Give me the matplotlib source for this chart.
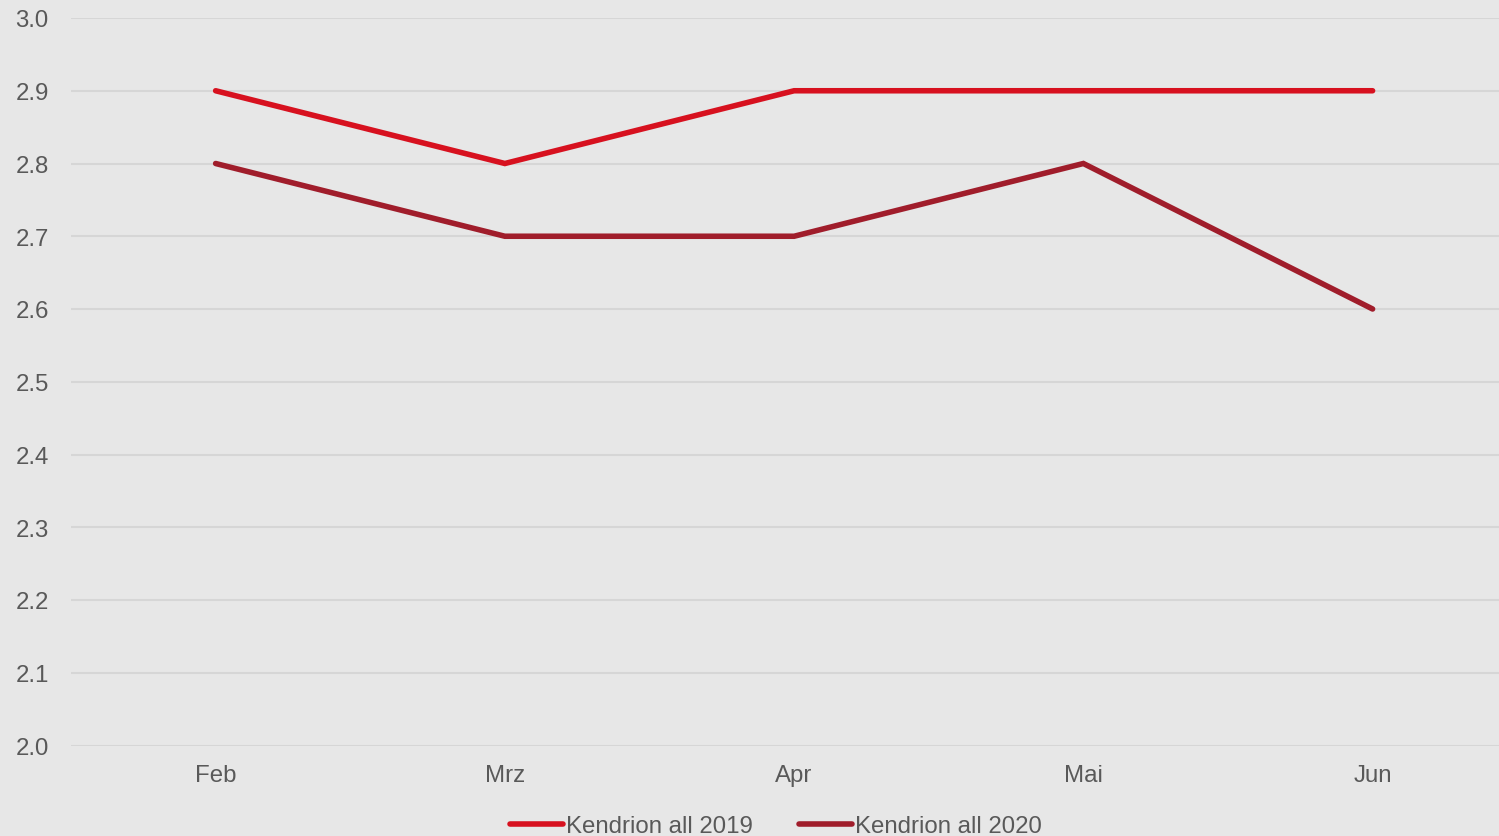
import matplotlib
matplotlib.use("Agg")
import matplotlib.pyplot as plt

months = ["Feb", "Mrz", "Apr", "Mai", "Jun"]
kendrion_2019 = [2.9, 2.8, 2.9, 2.9, 2.9]
kendrion_2020 = [2.8, 2.7, 2.7, 2.8, 2.6]
y_ticks = [2.0, 2.1, 2.2, 2.3, 2.4, 2.5, 2.6, 2.7, 2.8, 2.9, 3.0]

bg = "#E7E7E7"
text_color = "#595959"
plt.rcParams["font.family"] = ["Liberation Sans", "DejaVu Sans"]

fig = plt.figure(figsize=(14.99, 8.37), dpi=100, facecolor=bg)
ax = fig.add_axes([71 / 1499, 90.5 / 837, 1428 / 1499, 727.5 / 837], facecolor=bg)

x = list(range(len(months)))
ax.plot(x, kendrion_2019, color="#D7111F", lw=4.0, solid_capstyle="round",
        solid_joinstyle="miter", label="Kendrion all 2019", zorder=3)
ax.plot(x, kendrion_2020, color="#A01D2B", lw=4.0, solid_capstyle="round",
        solid_joinstyle="miter", label="Kendrion all 2020", zorder=3)

ax.set_xlim(-0.5, 4.437)
ax.set_ylim(2.0, 3.0)
ax.set_xticks(x)
ax.set_xticklabels(months)
ax.set_yticks(y_ticks)
ax.set_yticklabels([f"{v:.1f}" for v in y_ticks])
ax.yaxis.grid(True, color="#D6D6D6", lw=1.5)
ax.set_axisbelow(True)
for s in ax.spines.values():
    s.set_visible(False)
ax.tick_params(axis="both", length=0, labelsize=17.3, labelcolor=text_color)
ax.tick_params(axis="y", pad=16)
ax.tick_params(axis="x", pad=13)

leg = fig.legend(loc="center", bbox_to_anchor=(776 / 1499, 10 / 837), ncol=2,
                 frameon=False, fontsize=17.3, handlelength=2.2, handletextpad=0.15,
                 columnspacing=1.9, labelcolor=text_color)

fig.savefig("out.png", dpi=100, facecolor=bg)
